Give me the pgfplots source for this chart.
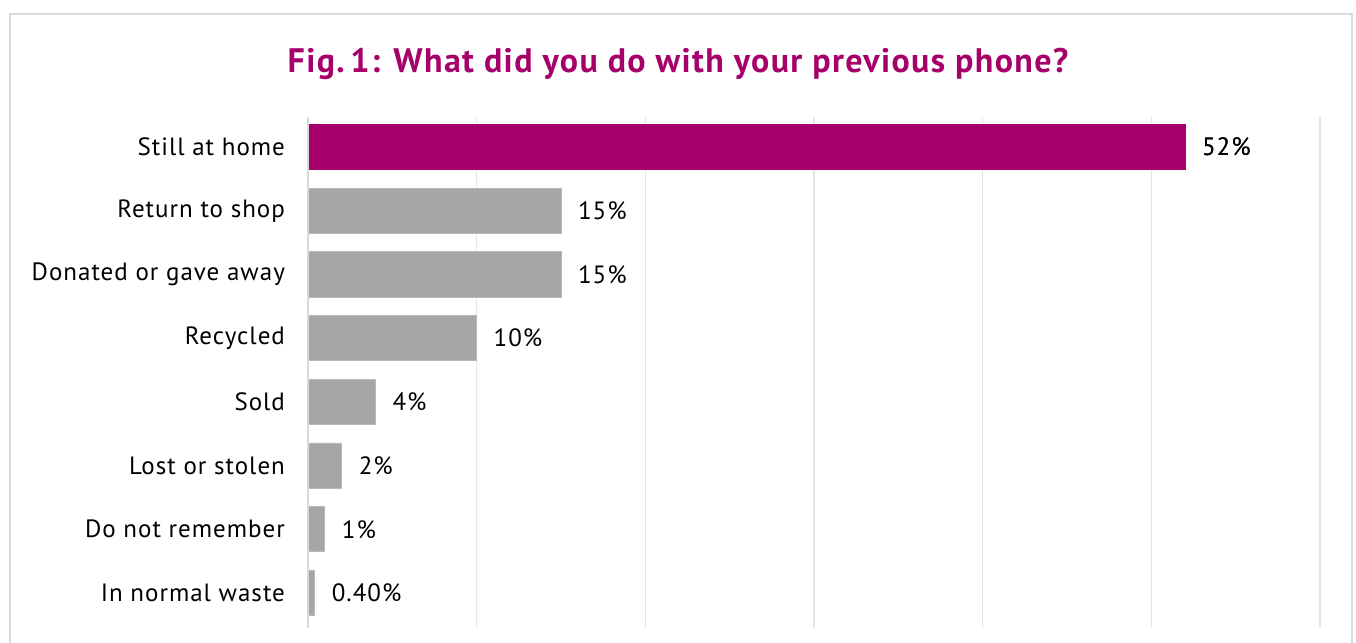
\documentclass[border=0pt]{standalone}
\usepackage{pgfplots}
\pgfplotsset{compat=1.18}
\usepackage{fontspec}
\setmainfont{PT Sans}[LetterSpace=4]
\definecolor{mag}{HTML}{A6006A}
\definecolor{bargray}{HTML}{A6A6A6}
\definecolor{gridc}{HTML}{E6E6E6}
\definecolor{framec}{HTML}{D9D9D9}
\pgfplotstableread{
y val lab
0 52 52\%
1 15 15\%
2 15 15\%
3 10 10\%
4 4 4\%
5 2 2\%
6 1 1\%
7 0.4 0.40\%
}\datatab
\begin{document}
\begin{tikzpicture}
\useasboundingbox (0pt,0pt) rectangle (678pt,321.5pt);
\clip (0pt,0pt) rectangle (678pt,321.5pt);
\draw[framec, line width=0.75pt] (5pt,-10pt) rectangle (676pt,314.5pt);
\node[text=mag, font=\bfseries\fontsize{17}{20}\selectfont, anchor=base] at (339pt,285pt) {Fig.\,1: What did you do with your previous phone?};
\begin{axis}[
  at={(154pt,7.5pt)}, anchor=south west,
  scale only axis, width=506pt, height=255.5pt,
  xmin=0, xmax=60, ymin=-0.47, ymax=7.55, y dir=reverse,
  xbar, bar width=0.71, bar shift=0pt,
  axis line style={draw=none},
  xmajorgrids, grid style={gridc, line width=0.6pt},
  xtick={0,10,...,60}, xticklabels={},
  ytick={0,...,7},
  yticklabels={Still at home, Return to shop, Donated or gave away, Recycled, Sold, Lost or stolen, Do not remember, In normal waste},
  yticklabel style={font=\fontsize{12.5}{14}\selectfont, xshift=-8pt},
  major tick length=0pt,
  nodes near coords,
  point meta=explicit symbolic,
  every node near coord/.style={font=\fontsize{12.5}{14}\selectfont, anchor=west, xshift=5pt, text=black},
  clip=false,
]
\addplot[fill=bargray, draw=bargray!80!white] table[x=val, y=y, meta=lab] {\datatab};
\addplot[fill=mag, draw=mag] table[x=val, y=y, meta=lab, restrict expr to domain={\thisrow{y}}{0:0}] {\datatab};
\draw[framec, line width=0.6pt] (axis cs:0,-0.47) -- (axis cs:0,7.55);
\end{axis}
\end{tikzpicture}
\end{document}
